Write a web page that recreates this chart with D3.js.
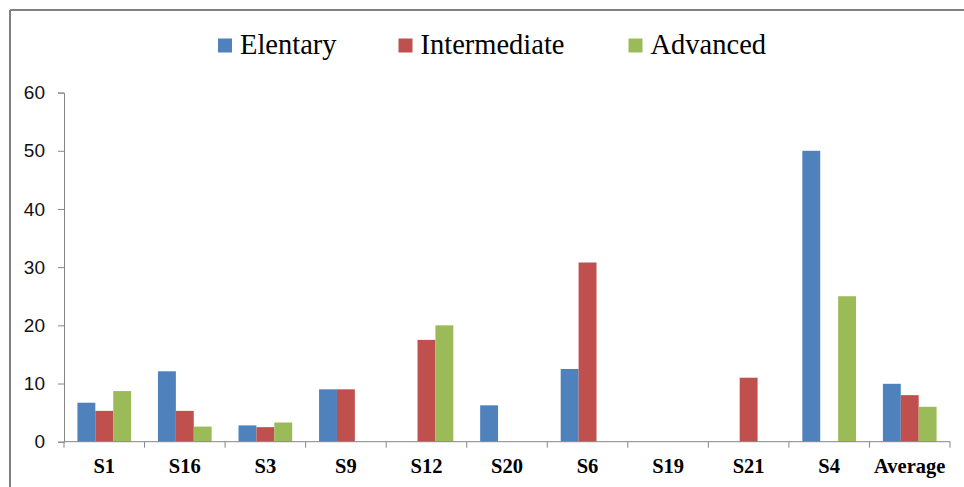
<!DOCTYPE html>
<html>
<head>
<meta charset="utf-8">
<script src="https://cdn.jsdelivr.net/npm/d3@7"></script>
<style>
  html, body { margin: 0; padding: 0; background: #fff; }
  svg { display: block; }
</style>
</head>
<body>
<svg id="chart" width="964" height="487"></svg>
<script>
// Categories and series values
const categories = ["S1", "S16", "S3", "S9", "S12", "S20", "S6", "S19", "S21", "S4", "Average"];
const seriesNames = ["Elentary", "Intermediate", "Advanced"];
const elentary     = [6.7, 12.1, 2.8, 9.0, 0, 6.25, 12.5, 0, 0, 50, 9.95];
const intermediate = [5.3, 5.3, 2.5, 9.0, 17.5, 0, 30.8, 0, 11, 0, 8.0];
const advanced     = [8.7, 2.6, 3.3, 0, 20, 0, 0, 0, 0, 25, 6.0];
const yTicks = [0, 10, 20, 30, 40, 50, 60];
const colors = ["#4F81BD", "#C0504D", "#9BBB59"];

const seriesValues = [elentary, intermediate, advanced];

const svg = d3.select("#chart");
const W = 964, H = 487;
const axisColor = "#868686";

// Outer frame (top and left edges visible)
svg.append("line").attr("x1", 10).attr("y1", 10).attr("x2", W).attr("y2", 10)
  .attr("stroke", "#808080").attr("stroke-width", 2);
svg.append("line").attr("x1", 10).attr("y1", 10).attr("x2", 10).attr("y2", H)
  .attr("stroke", "#808080").attr("stroke-width", 2);

const plot = { left: 64, right: 950, top: 92.6, bottom: 441.7 };

const x0 = d3.scaleBand().domain(categories).range([plot.left, plot.right]).paddingInner(0).paddingOuter(0);
const y = d3.scaleLinear().domain([0, 60]).range([plot.bottom, plot.top]);

// Grouped bars: gap width 150% of a bar
const bw = x0.bandwidth();
const barW = bw / (3 + 1.5);
const groupOffset = (bw - 3 * barW) / 2;

const rows = [];
categories.forEach((c, i) => {
  seriesValues.forEach((vals, s) => {
    rows.push({ cat: c, s, v: vals[i] });
  });
});

svg.append("g").selectAll("rect")
  .data(rows.filter(d => d.v > 0))
  .join("rect")
  .attr("x", d => x0(d.cat) + groupOffset + d.s * barW)
  .attr("y", d => y(d.v))
  .attr("width", barW)
  .attr("height", d => y(0) - y(d.v))
  .attr("fill", d => colors[d.s]);

// Y axis
const yAxis = svg.append("g")
  .attr("transform", `translate(${plot.left},0)`)
  .call(d3.axisLeft(y).tickValues(yTicks).tickSize(6).tickPadding(13));
yAxis.select(".domain").attr("stroke", axisColor);
yAxis.selectAll(".tick line").attr("stroke", axisColor);
yAxis.selectAll(".tick text")
  .attr("fill", "#111")
  .style("font-family", "'Liberation Sans', Arial, sans-serif")
  .style("font-size", "19px");

// X axis: baseline with tick marks between categories
const xg = svg.append("g");
xg.append("line")
  .attr("x1", plot.left).attr("x2", plot.right)
  .attr("y1", y(0)).attr("y2", y(0))
  .attr("stroke", axisColor);
const boundaries = categories.map(c => x0(c)).concat([plot.right]);
xg.selectAll("line.tk").data(boundaries).join("line")
  .attr("class", "tk")
  .attr("x1", d => d).attr("x2", d => d)
  .attr("y1", y(0)).attr("y2", y(0) + 6)
  .attr("stroke", axisColor);
xg.selectAll("text").data(categories).join("text")
  .attr("x", d => x0(d) + bw / 2)
  .attr("y", 473)
  .attr("text-anchor", "middle")
  .attr("fill", "#000")
  .style("font-family", "'Liberation Serif', 'Times New Roman', serif")
  .style("font-weight", "bold")
  .style("font-size", "20.5px")
  .text(d => d);

// Legend
const legendX = [218, 398.5, 628.5];
const lg = svg.append("g");
seriesNames.forEach((name, i) => {
  lg.append("rect")
    .attr("x", legendX[i]).attr("y", 38.5)
    .attr("width", 14).attr("height", 14)
    .attr("fill", colors[i]);
  lg.append("text")
    .attr("x", legendX[i] + 22).attr("y", 54)
    .attr("fill", "#000")
    .style("font-family", "'Liberation Serif', 'Times New Roman', serif")
    .style("font-size", "28.5px")
    .text(name);
});
</script>
</body>
</html>
